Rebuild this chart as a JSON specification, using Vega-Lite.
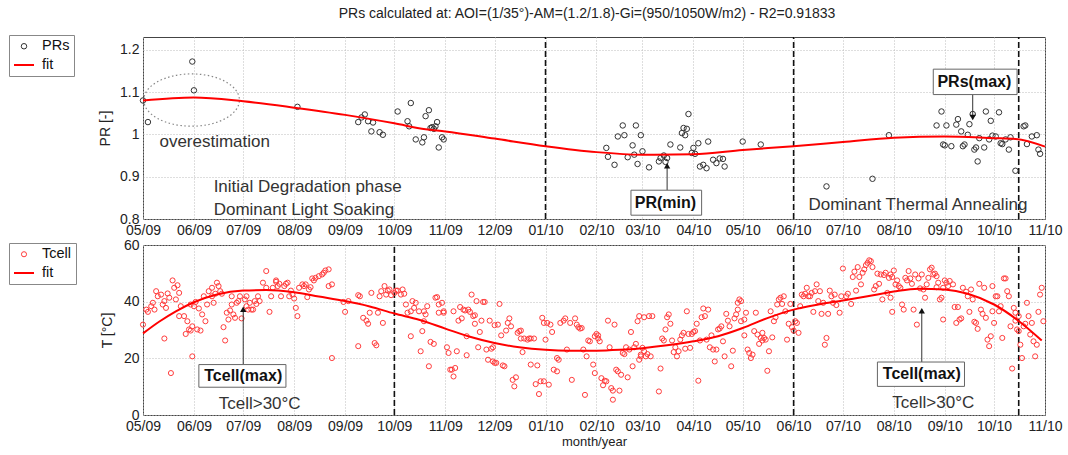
{
"$schema":"https://vega.github.io/schema/vega-lite/v6.json",
"padding":{"left":8,"top":6,"right":10,"bottom":4},
"config":{"font":"Liberation Sans","view":{"stroke":"#444","strokeWidth":1},
"axis":{"grid":true,"gridColor":"#bdbdbd","gridDash":[1,2],"gridWidth":1,"ticks":false,"domain":false,"labelFontSize":14,"labelColor":"#222","labelPadding":4,"titleFontSize":14,"titleFontWeight":"normal","titleColor":"#222","labelFlush":false,"labelOverlap":false},
"legend":{"orient":"none","legendX":-134,"legendY":-2,"fillColor":"white","strokeColor":"#888","padding":4,"rowPadding":1,"labelFontSize":14.5,"labelColor":"#111","labelOffset":7}},
"datasets":{
"pr":[{"date":"2009-05-01","PR":1.080},{"date":"2009-05-04","PR":1.029},{"date":"2009-05-31","PR":1.172},{"date":"2009-06-01","PR":1.104},{"date":"2009-08-03","PR":1.065},{"date":"2009-09-09","PR":1.029},{"date":"2009-09-11","PR":1.040},{"date":"2009-09-13","PR":1.047},{"date":"2009-09-15","PR":1.031},{"date":"2009-09-17","PR":1.007},{"date":"2009-09-18","PR":1.028},{"date":"2009-09-22","PR":1.005},{"date":"2009-09-24","PR":0.999},{"date":"2009-10-03","PR":1.054},{"date":"2009-10-09","PR":1.031},{"date":"2009-10-11","PR":1.074},{"date":"2009-10-10","PR":1.019},{"date":"2009-10-14","PR":0.988},{"date":"2009-10-18","PR":0.981},{"date":"2009-10-19","PR":0.993},{"date":"2009-10-20","PR":1.043},{"date":"2009-10-22","PR":1.057},{"date":"2009-10-23","PR":1.015},{"date":"2009-10-24","PR":1.017},{"date":"2009-10-25","PR":1.013},{"date":"2009-10-26","PR":1.019},{"date":"2009-10-27","PR":1.029},{"date":"2009-10-28","PR":0.969},{"date":"2009-10-30","PR":0.993},{"date":"2009-10-31","PR":0.988},
{"date":"2010-02-07","PR":0.968},{"date":"2010-02-08","PR":0.947},{"date":"2010-02-12","PR":0.928},{"date":"2010-02-14","PR":0.995},{"date":"2010-02-17","PR":1.021},{"date":"2010-02-18","PR":0.998},{"date":"2010-02-20","PR":0.946},{"date":"2010-02-23","PR":0.974},{"date":"2010-02-24","PR":0.952},{"date":"2010-02-25","PR":1.021},{"date":"2010-02-26","PR":0.930},{"date":"2010-02-28","PR":0.998},{"date":"2010-03-01","PR":0.960},{"date":"2010-03-05","PR":0.922},{"date":"2010-03-11","PR":0.936},{"date":"2010-03-12","PR":0.944},{"date":"2010-03-14","PR":0.950},{"date":"2010-03-15","PR":0.935},{"date":"2010-03-16","PR":0.944},{"date":"2010-03-18","PR":0.976},{"date":"2010-03-24","PR":0.969},{"date":"2010-03-25","PR":1.003},{"date":"2010-03-26","PR":1.015},{"date":"2010-03-27","PR":0.998},{"date":"2010-03-28","PR":1.013},{"date":"2010-03-29","PR":1.048},{"date":"2010-03-31","PR":0.956},{"date":"2010-04-01","PR":0.968},{"date":"2010-04-02","PR":0.954},{"date":"2010-04-04","PR":0.979},{"date":"2010-04-05","PR":0.924},{"date":"2010-04-07","PR":0.928},{"date":"2010-04-09","PR":0.920},{"date":"2010-04-10","PR":0.983},{"date":"2010-04-13","PR":0.940},{"date":"2010-04-15","PR":0.932},{"date":"2010-04-17","PR":0.943},{"date":"2010-04-19","PR":0.942},{"date":"2010-04-20","PR":0.924},{"date":"2010-05-01","PR":0.983},{"date":"2010-05-12","PR":0.976},{"date":"2010-06-21","PR":0.877},{"date":"2010-07-19","PR":0.895},{"date":"2010-07-29","PR":0.998},
{"date":"2010-08-27","PR":1.021},{"date":"2010-08-30","PR":1.054},{"date":"2010-08-31","PR":0.976},{"date":"2010-09-01","PR":0.974},{"date":"2010-09-02","PR":1.021},{"date":"2010-09-05","PR":0.972},{"date":"2010-09-08","PR":1.023},{"date":"2010-09-09","PR":1.036},{"date":"2010-09-11","PR":1.007},{"date":"2010-09-12","PR":0.972},{"date":"2010-09-13","PR":0.976},{"date":"2010-09-15","PR":0.999},{"date":"2010-09-16","PR":1.024},{"date":"2010-09-18","PR":1.048},{"date":"2010-09-19","PR":0.964},{"date":"2010-09-20","PR":0.969},{"date":"2010-09-21","PR":0.936},{"date":"2010-09-22","PR":0.991},{"date":"2010-09-25","PR":0.969},{"date":"2010-09-26","PR":1.054},{"date":"2010-09-28","PR":0.988},{"date":"2010-09-30","PR":0.997},{"date":"2010-09-29","PR":1.032},{"date":"2010-10-02","PR":0.995},{"date":"2010-10-04","PR":1.052},{"date":"2010-10-05","PR":0.979},{"date":"2010-10-06","PR":0.977},{"date":"2010-10-08","PR":0.988},{"date":"2010-10-10","PR":0.964},{"date":"2010-10-11","PR":0.993},{"date":"2010-10-14","PR":0.914},{"date":"2010-10-19","PR":1.019},{"date":"2010-10-20","PR":1.021},{"date":"2010-10-21","PR":0.977},{"date":"2010-10-24","PR":0.995},{"date":"2010-10-27","PR":0.998},{"date":"2010-10-28","PR":0.964},{"date":"2010-10-29","PR":0.954}],
"prfit":[{"date":"2009-05-01","PR":1.080},{"date":"2009-06-01","PR":1.087},{"date":"2009-07-01","PR":1.078},{"date":"2009-08-01","PR":1.063},{"date":"2009-09-01","PR":1.046},{"date":"2009-10-01","PR":1.026},{"date":"2009-10-20","PR":1.012},{"date":"2009-11-01","PR":1.007},{"date":"2009-12-01","PR":0.990},{"date":"2010-01-01","PR":0.972},{"date":"2010-02-01","PR":0.958},{"date":"2010-03-01","PR":0.952},{"date":"2010-04-01","PR":0.953},{"date":"2010-05-01","PR":0.963},{"date":"2010-06-01","PR":0.972},{"date":"2010-07-01","PR":0.982},{"date":"2010-08-01","PR":0.992},{"date":"2010-09-01","PR":0.995},{"date":"2010-10-01","PR":0.991},{"date":"2010-10-14","PR":0.989},{"date":"2010-11-01","PR":0.971}],
"tcfit":[{"date":"2009-05-01","T":28.8},{"date":"2009-05-11","T":33.0},{"date":"2009-05-21","T":36.6},{"date":"2009-06-01","T":39.8},{"date":"2009-06-15","T":42.5},{"date":"2009-07-01","T":43.9},{"date":"2009-07-15","T":44.1},{"date":"2009-08-01","T":43.3},{"date":"2009-08-16","T":41.8},{"date":"2009-09-01","T":40.2},{"date":"2009-09-16","T":38.3},{"date":"2009-10-01","T":35.8},{"date":"2009-10-16","T":33.6},{"date":"2009-11-01","T":30.5},{"date":"2009-11-16","T":27.6},{"date":"2009-12-01","T":25.4},{"date":"2009-12-16","T":23.9},{"date":"2010-01-01","T":23.0},{"date":"2010-01-16","T":22.7},{"date":"2010-02-01","T":22.7},{"date":"2010-02-15","T":23.0},{"date":"2010-03-01","T":23.6},{"date":"2010-03-16","T":24.6},{"date":"2010-04-01","T":26.0},{"date":"2010-04-16","T":27.8},{"date":"2010-05-01","T":30.7},{"date":"2010-05-16","T":34.2},{"date":"2010-06-01","T":37.2},{"date":"2010-06-16","T":39.0},{"date":"2010-07-01","T":40.4},{"date":"2010-07-16","T":41.9},{"date":"2010-08-01","T":43.6},{"date":"2010-08-16","T":44.6},{"date":"2010-09-01","T":44.3},{"date":"2010-09-15","T":42.8},{"date":"2010-10-01","T":39.0},{"date":"2010-10-16","T":33.2},{"date":"2010-10-30","T":26.3}],
"tc":[{"date":"2009-05-01","T":31.9},{"date":"2009-05-03","T":37.2},{"date":"2009-05-04","T":36.4},{"date":"2009-05-06","T":38.4},{"date":"2009-05-07","T":39.6},{"date":"2009-05-08","T":37.2},{"date":"2009-05-09","T":43.7},{"date":"2009-05-10","T":41.9},{"date":"2009-05-12","T":42.5},{"date":"2009-05-13","T":39.0},{"date":"2009-05-14","T":40.2},{"date":"2009-05-14","T":27.0},{"date":"2009-05-15","T":37.8},{"date":"2009-05-16","T":42.9},{"date":"2009-05-17","T":41.4},{"date":"2009-05-18","T":14.8},{"date":"2009-05-19","T":47.5},{"date":"2009-05-20","T":44.9},{"date":"2009-05-21","T":40.8},{"date":"2009-05-22","T":45.8},{"date":"2009-05-23","T":43.1},{"date":"2009-05-23","T":34.9},{"date":"2009-05-24","T":38.4},{"date":"2009-05-26","T":34.9},{"date":"2009-05-27","T":28.6},{"date":"2009-05-28","T":33.1},{"date":"2009-05-29","T":30.2},{"date":"2009-05-30","T":39.0},{"date":"2009-05-30","T":29.8},{"date":"2009-05-31","T":20.7},{"date":"2009-05-31","T":31.3},
{"date":"2009-06-01","T":38.4},{"date":"2009-06-02","T":39.9},{"date":"2009-06-03","T":30.2},{"date":"2009-06-04","T":37.6},{"date":"2009-06-05","T":29.8},{"date":"2009-06-06","T":35.5},{"date":"2009-06-07","T":41.9},{"date":"2009-06-08","T":33.1},{"date":"2009-06-09","T":39.0},{"date":"2009-06-10","T":43.7},{"date":"2009-06-12","T":41.9},{"date":"2009-06-12","T":44.9},{"date":"2009-06-13","T":39.6},{"date":"2009-06-14","T":42.8},{"date":"2009-06-15","T":46.7},{"date":"2009-06-16","T":45.5},{"date":"2009-06-17","T":43.7},{"date":"2009-06-18","T":42.8},{"date":"2009-06-19","T":31.0},{"date":"2009-06-20","T":26.3},{"date":"2009-06-21","T":36.1},{"date":"2009-06-22","T":33.7},{"date":"2009-06-23","T":36.9},{"date":"2009-06-24","T":39.0},{"date":"2009-06-24","T":41.9},{"date":"2009-06-25","T":35.5},{"date":"2009-06-26","T":34.3},{"date":"2009-06-27","T":39.6},{"date":"2009-06-28","T":40.2},{"date":"2009-06-29","T":41.9},{"date":"2009-06-30","T":34.1},
{"date":"2009-07-02","T":40.8},{"date":"2009-07-03","T":38.4},{"date":"2009-07-03","T":41.9},{"date":"2009-07-04","T":37.2},{"date":"2009-07-05","T":39.6},{"date":"2009-07-06","T":37.2},{"date":"2009-07-07","T":37.2},{"date":"2009-07-08","T":40.2},{"date":"2009-07-09","T":39.2},{"date":"2009-07-10","T":41.9},{"date":"2009-07-11","T":40.2},{"date":"2009-07-13","T":46.7},{"date":"2009-07-15","T":44.9},{"date":"2009-07-15","T":50.8},{"date":"2009-07-17","T":36.4},{"date":"2009-07-18","T":41.9},{"date":"2009-07-19","T":44.9},{"date":"2009-07-21","T":47.0},{"date":"2009-07-21","T":47.5},{"date":"2009-07-22","T":45.5},{"date":"2009-07-23","T":46.3},{"date":"2009-07-24","T":41.9},{"date":"2009-07-26","T":45.5},{"date":"2009-07-27","T":46.3},{"date":"2009-07-28","T":46.7},{"date":"2009-07-29","T":41.9},{"date":"2009-07-30","T":43.9},{"date":"2009-07-31","T":42.5},
{"date":"2009-08-01","T":41.1},{"date":"2009-08-02","T":37.8},{"date":"2009-08-03","T":34.9},{"date":"2009-08-04","T":44.9},{"date":"2009-08-06","T":46.1},{"date":"2009-08-07","T":45.5},{"date":"2009-08-08","T":46.1},{"date":"2009-08-09","T":41.6},{"date":"2009-08-10","T":44.3},{"date":"2009-08-11","T":45.1},{"date":"2009-08-12","T":48.2},{"date":"2009-08-13","T":47.5},{"date":"2009-08-14","T":48.4},{"date":"2009-08-16","T":49.0},{"date":"2009-08-18","T":49.6},{"date":"2009-08-19","T":50.2},{"date":"2009-08-20","T":51.0},{"date":"2009-08-22","T":51.4},{"date":"2009-08-22","T":45.5},{"date":"2009-08-24","T":46.1},{"date":"2009-08-24","T":20.1},{"date":"2009-08-31","T":39.9},
{"date":"2009-09-01","T":36.4},{"date":"2009-09-03","T":40.2},{"date":"2009-09-09","T":42.3},{"date":"2009-09-10","T":41.9},{"date":"2009-09-09","T":24.3},{"date":"2009-09-12","T":34.3},{"date":"2009-09-14","T":33.3},{"date":"2009-09-15","T":32.2},{"date":"2009-09-16","T":36.1},{"date":"2009-09-17","T":43.1},{"date":"2009-09-19","T":25.4},{"date":"2009-09-20","T":24.6},{"date":"2009-09-21","T":36.1},{"date":"2009-09-22","T":41.9},{"date":"2009-09-23","T":43.7},{"date":"2009-09-24","T":32.5},{"date":"2009-09-25","T":45.5},{"date":"2009-09-26","T":42.5},{"date":"2009-09-27","T":43.9},{"date":"2009-09-28","T":44.3},{"date":"2009-09-29","T":42.3},
{"date":"2009-10-01","T":43.1},{"date":"2009-10-02","T":43.9},{"date":"2009-10-03","T":43.9},{"date":"2009-10-05","T":42.5},{"date":"2009-10-06","T":44.3},{"date":"2009-10-07","T":42.8},{"date":"2009-10-08","T":39.0},{"date":"2009-10-09","T":36.1},{"date":"2009-10-11","T":36.6},{"date":"2009-10-11","T":27.8},{"date":"2009-10-12","T":40.2},{"date":"2009-10-13","T":37.8},{"date":"2009-10-14","T":39.6},{"date":"2009-10-16","T":36.6},{"date":"2009-10-17","T":22.5},{"date":"2009-10-18","T":29.6},{"date":"2009-10-19","T":36.6},{"date":"2009-10-19","T":33.1},{"date":"2009-10-20","T":35.5},{"date":"2009-10-21","T":38.4},{"date":"2009-10-22","T":17.2},{"date":"2009-10-23","T":25.8},{"date":"2009-10-25","T":25.1},{"date":"2009-10-26","T":41.4},{"date":"2009-10-27","T":41.6},{"date":"2009-10-28","T":36.1},{"date":"2009-10-28","T":39.0},{"date":"2009-10-30","T":39.6},{"date":"2009-10-31","T":36.6},{"date":"2009-10-31","T":36.1},
{"date":"2009-11-02","T":23.9},{"date":"2009-11-03","T":21.9},{"date":"2009-11-04","T":16.0},{"date":"2009-11-05","T":16.0},{"date":"2009-11-06","T":13.6},{"date":"2009-11-06","T":36.6},{"date":"2009-11-07","T":16.6},{"date":"2009-11-08","T":22.5},{"date":"2009-11-09","T":33.3},{"date":"2009-11-10","T":38.1},{"date":"2009-11-11","T":34.1},{"date":"2009-11-12","T":37.2},{"date":"2009-11-13","T":36.9},{"date":"2009-11-14","T":27.8},{"date":"2009-11-14","T":21.1},{"date":"2009-11-15","T":37.2},{"date":"2009-11-16","T":36.4},{"date":"2009-11-17","T":42.5},{"date":"2009-11-18","T":34.9},{"date":"2009-11-19","T":35.2},{"date":"2009-11-19","T":32.2},{"date":"2009-11-20","T":40.2},{"date":"2009-11-21","T":23.9},{"date":"2009-11-22","T":29.3},{"date":"2009-11-23","T":33.3},{"date":"2009-11-24","T":39.9},{"date":"2009-11-25","T":39.9},{"date":"2009-11-26","T":23.1},{"date":"2009-11-27","T":19.5},{"date":"2009-11-28","T":33.3},{"date":"2009-11-29","T":23.4},{"date":"2009-11-30","T":23.9},{"date":"2009-11-30","T":18.9},
{"date":"2009-12-01","T":18.4},{"date":"2009-12-01","T":31.7},{"date":"2009-12-02","T":18.4},{"date":"2009-12-03","T":31.9},{"date":"2009-12-04","T":39.2},{"date":"2009-12-05","T":28.1},{"date":"2009-12-06","T":17.5},{"date":"2009-12-07","T":17.2},{"date":"2009-12-08","T":29.8},{"date":"2009-12-09","T":32.5},{"date":"2009-12-10","T":34.1},{"date":"2009-12-11","T":31.3},{"date":"2009-12-12","T":12.4},{"date":"2009-12-13","T":10.1},{"date":"2009-12-14","T":13.3},{"date":"2009-12-15","T":29.0},{"date":"2009-12-16","T":29.6},{"date":"2009-12-17","T":27.0},{"date":"2009-12-17","T":29.8},{"date":"2009-12-18","T":22.2},{"date":"2009-12-19","T":27.0},{"date":"2009-12-21","T":26.6},{"date":"2009-12-22","T":27.0},{"date":"2009-12-23","T":17.8},{"date":"2009-12-23","T":27.0},{"date":"2009-12-25","T":27.0},{"date":"2009-12-26","T":10.9},{"date":"2009-12-27","T":17.5},{"date":"2009-12-28","T":7.4},{"date":"2009-12-29","T":11.9},{"date":"2009-12-30","T":34.3},{"date":"2009-12-31","T":32.5},{"date":"2009-12-31","T":11.9},
{"date":"2010-01-01","T":26.6},{"date":"2010-01-02","T":32.5},{"date":"2010-01-03","T":10.7},{"date":"2010-01-04","T":31.9},{"date":"2010-01-05","T":29.3},{"date":"2010-01-06","T":16.0},{"date":"2010-01-08","T":20.1},{"date":"2010-01-08","T":15.4},{"date":"2010-01-09","T":19.5},{"date":"2010-01-10","T":32.5},{"date":"2010-01-12","T":33.3},{"date":"2010-01-13","T":34.1},{"date":"2010-01-14","T":23.1},{"date":"2010-01-16","T":32.5},{"date":"2010-01-17","T":12.4},{"date":"2010-01-19","T":34.1},{"date":"2010-01-20","T":31.9},{"date":"2010-01-21","T":31.0},{"date":"2010-01-22","T":30.5},{"date":"2010-01-23","T":30.7},{"date":"2010-01-24","T":23.1},{"date":"2010-01-25","T":7.1},{"date":"2010-01-26","T":20.7},{"date":"2010-01-27","T":26.3},{"date":"2010-01-28","T":26.0},{"date":"2010-01-30","T":17.8},{"date":"2010-01-31","T":14.8},{"date":"2010-01-31","T":27.8},
{"date":"2010-02-01","T":28.6},{"date":"2010-02-02","T":27.0},{"date":"2010-02-02","T":28.1},{"date":"2010-02-03","T":26.0},{"date":"2010-02-04","T":13.0},{"date":"2010-02-05","T":10.5},{"date":"2010-02-06","T":12.1},{"date":"2010-02-07","T":11.9},{"date":"2010-02-08","T":33.3},{"date":"2010-02-09","T":23.9},{"date":"2010-02-10","T":9.5},{"date":"2010-02-11","T":8.6},{"date":"2010-02-11","T":5.4},{"date":"2010-02-12","T":31.9},{"date":"2010-02-13","T":16.0},{"date":"2010-02-14","T":15.4},{"date":"2010-02-15","T":8.6},{"date":"2010-02-16","T":14.2},{"date":"2010-02-17","T":21.9},{"date":"2010-02-18","T":21.5},{"date":"2010-02-19","T":23.9},{"date":"2010-02-20","T":13.3},{"date":"2010-02-21","T":23.1},{"date":"2010-02-22","T":29.3},{"date":"2010-02-23","T":17.2},{"date":"2010-02-24","T":23.9},{"date":"2010-02-25","T":25.1},{"date":"2010-02-26","T":33.1},{"date":"2010-02-27","T":19.5},{"date":"2010-02-27","T":34.9},{"date":"2010-02-28","T":20.7},{"date":"2010-02-28","T":21.3},
{"date":"2010-03-01","T":23.7},{"date":"2010-03-02","T":34.5},{"date":"2010-03-02","T":22.5},{"date":"2010-03-03","T":20.7},{"date":"2010-03-04","T":21.5},{"date":"2010-03-05","T":34.9},{"date":"2010-03-06","T":20.7},{"date":"2010-03-07","T":34.9},{"date":"2010-03-11","T":8.3},{"date":"2010-03-12","T":16.4},{"date":"2010-03-13","T":27.0},{"date":"2010-03-14","T":26.3},{"date":"2010-03-15","T":30.2},{"date":"2010-03-16","T":34.5},{"date":"2010-03-17","T":35.5},{"date":"2010-03-18","T":32.2},{"date":"2010-03-19","T":26.3},{"date":"2010-03-20","T":22.2},{"date":"2010-03-21","T":23.9},{"date":"2010-03-22","T":20.7},{"date":"2010-03-23","T":22.5},{"date":"2010-03-24","T":26.6},{"date":"2010-03-25","T":28.1},{"date":"2010-03-26","T":29.0},{"date":"2010-03-27","T":23.4},{"date":"2010-03-28","T":36.6},{"date":"2010-03-29","T":28.6},{"date":"2010-03-30","T":23.7},{"date":"2010-03-31","T":28.6},
{"date":"2010-04-01","T":29.3},{"date":"2010-04-02","T":29.6},{"date":"2010-04-03","T":32.2},{"date":"2010-04-04","T":12.1},{"date":"2010-04-05","T":26.3},{"date":"2010-04-06","T":34.5},{"date":"2010-04-07","T":37.6},{"date":"2010-04-08","T":34.9},{"date":"2010-04-09","T":26.6},{"date":"2010-04-10","T":37.2},{"date":"2010-04-11","T":23.9},{"date":"2010-04-12","T":28.1},{"date":"2010-04-13","T":23.1},{"date":"2010-04-14","T":18.9},{"date":"2010-04-15","T":23.1},{"date":"2010-04-16","T":30.2},{"date":"2010-04-17","T":30.5},{"date":"2010-04-18","T":31.3},{"date":"2010-04-19","T":26.0},{"date":"2010-04-20","T":20.7},{"date":"2010-04-21","T":35.7},{"date":"2010-04-22","T":33.3},{"date":"2010-04-23","T":31.3},{"date":"2010-04-24","T":17.2},{"date":"2010-04-25","T":22.7},{"date":"2010-04-26","T":34.1},{"date":"2010-04-27","T":35.5},{"date":"2010-04-28","T":37.2},{"date":"2010-04-28","T":39.6},{"date":"2010-04-29","T":40.8},{"date":"2010-04-30","T":33.1},{"date":"2010-04-30","T":40.2},
{"date":"2010-05-02","T":33.7},{"date":"2010-05-02","T":28.1},{"date":"2010-05-03","T":36.1},{"date":"2010-05-04","T":23.1},{"date":"2010-05-05","T":21.9},{"date":"2010-05-06","T":20.1},{"date":"2010-05-07","T":21.3},{"date":"2010-05-08","T":29.6},{"date":"2010-05-09","T":36.1},{"date":"2010-05-10","T":28.4},{"date":"2010-05-11","T":25.1},{"date":"2010-05-12","T":27.2},{"date":"2010-05-13","T":29.0},{"date":"2010-05-13","T":26.3},{"date":"2010-05-14","T":27.2},{"date":"2010-05-15","T":26.6},{"date":"2010-05-16","T":15.6},{"date":"2010-05-17","T":22.5},{"date":"2010-05-18","T":36.6},{"date":"2010-05-19","T":27.4},{"date":"2010-05-20","T":33.1},{"date":"2010-05-21","T":34.5},{"date":"2010-05-22","T":39.0},{"date":"2010-05-23","T":40.8},{"date":"2010-05-24","T":41.4},{"date":"2010-05-25","T":39.2},{"date":"2010-05-26","T":41.9},{"date":"2010-05-27","T":36.6},{"date":"2010-05-28","T":26.6},{"date":"2010-05-29","T":32.2},{"date":"2010-05-30","T":39.2},{"date":"2010-05-31","T":31.0},{"date":"2010-06-01","T":29.8},
{"date":"2010-06-02","T":33.1},{"date":"2010-06-03","T":32.5},{"date":"2010-06-04","T":29.0},{"date":"2010-06-05","T":38.4},{"date":"2010-06-06","T":42.5},{"date":"2010-06-07","T":41.9},{"date":"2010-06-08","T":42.8},{"date":"2010-06-09","T":44.9},{"date":"2010-06-10","T":41.9},{"date":"2010-06-11","T":41.9},{"date":"2010-06-12","T":43.1},{"date":"2010-06-13","T":36.4},{"date":"2010-06-14","T":43.7},{"date":"2010-06-15","T":46.1},{"date":"2010-06-16","T":40.2},{"date":"2010-06-17","T":43.7},{"date":"2010-06-18","T":35.7},{"date":"2010-06-19","T":39.6},{"date":"2010-06-20","T":24.8},{"date":"2010-06-21","T":27.2},{"date":"2010-06-22","T":35.7},{"date":"2010-06-23","T":43.9},{"date":"2010-06-24","T":41.9},{"date":"2010-06-25","T":39.6},{"date":"2010-06-26","T":42.5},{"date":"2010-06-27","T":38.8},{"date":"2010-06-29","T":36.1},{"date":"2010-06-30","T":41.9},
{"date":"2010-07-01","T":51.7},{"date":"2010-07-03","T":41.9},{"date":"2010-07-04","T":42.8},{"date":"2010-07-06","T":39.2},{"date":"2010-07-07","T":48.7},{"date":"2010-07-08","T":50.6},{"date":"2010-07-09","T":43.9},{"date":"2010-07-10","T":52.2},{"date":"2010-07-11","T":48.7},{"date":"2010-07-12","T":46.1},{"date":"2010-07-13","T":50.2},{"date":"2010-07-14","T":51.4},{"date":"2010-07-15","T":52.9},{"date":"2010-07-16","T":53.7},{"date":"2010-07-17","T":54.6},{"date":"2010-07-18","T":54.3},{"date":"2010-07-19","T":52.2},{"date":"2010-07-20","T":44.3},{"date":"2010-07-21","T":45.5},{"date":"2010-07-22","T":49.9},{"date":"2010-07-23","T":46.3},{"date":"2010-07-24","T":49.6},{"date":"2010-07-25","T":40.8},{"date":"2010-07-26","T":49.4},{"date":"2010-07-27","T":50.2},{"date":"2010-07-28","T":43.1},{"date":"2010-07-29","T":48.4},{"date":"2010-07-30","T":49.6},{"date":"2010-07-30","T":41.4},{"date":"2010-07-31","T":36.4},{"date":"2010-07-31","T":48.7},
{"date":"2010-08-01","T":51.0},{"date":"2010-08-02","T":46.1},{"date":"2010-08-03","T":47.5},{"date":"2010-08-04","T":45.5},{"date":"2010-08-05","T":44.9},{"date":"2010-08-06","T":39.0},{"date":"2010-08-07","T":37.2},{"date":"2010-08-08","T":48.4},{"date":"2010-08-09","T":47.5},{"date":"2010-08-10","T":50.8},{"date":"2010-08-11","T":48.2},{"date":"2010-08-12","T":46.3},{"date":"2010-08-13","T":37.2},{"date":"2010-08-14","T":49.6},{"date":"2010-08-15","T":31.9},{"date":"2010-08-16","T":48.2},{"date":"2010-08-17","T":44.7},{"date":"2010-08-18","T":49.6},{"date":"2010-08-19","T":44.3},{"date":"2010-08-20","T":41.4},{"date":"2010-08-21","T":46.1},{"date":"2010-08-22","T":48.4},{"date":"2010-08-23","T":51.4},{"date":"2010-08-24","T":52.0},{"date":"2010-08-25","T":49.6},{"date":"2010-08-26","T":49.9},{"date":"2010-08-27","T":49.0},{"date":"2010-08-27","T":45.1},{"date":"2010-08-28","T":46.7},{"date":"2010-08-29","T":40.8},{"date":"2010-08-30","T":41.4},{"date":"2010-08-31","T":33.7},{"date":"2010-08-31","T":44.9},{"date":"2010-09-01","T":47.5},
{"date":"2010-09-02","T":46.7},{"date":"2010-09-03","T":45.5},{"date":"2010-09-04","T":47.3},{"date":"2010-09-06","T":46.1},{"date":"2010-09-07","T":38.1},{"date":"2010-09-08","T":32.5},{"date":"2010-09-09","T":38.1},{"date":"2010-09-10","T":33.7},{"date":"2010-09-11","T":34.1},{"date":"2010-09-12","T":44.9},{"date":"2010-09-14","T":43.5},{"date":"2010-09-15","T":41.9},{"date":"2010-09-16","T":36.4},{"date":"2010-09-17","T":44.3},{"date":"2010-09-18","T":40.8},{"date":"2010-09-19","T":32.9},{"date":"2010-09-20","T":32.5},{"date":"2010-09-21","T":30.4},{"date":"2010-09-22","T":46.3},{"date":"2010-09-23","T":37.2},{"date":"2010-09-24","T":35.7},{"date":"2010-09-25","T":44.9},{"date":"2010-09-26","T":34.3},{"date":"2010-09-27","T":26.6},{"date":"2010-09-28","T":24.3},{"date":"2010-09-29","T":27.8},{"date":"2010-09-30","T":45.5},{"date":"2010-09-30","T":36.6},{"date":"2010-10-01","T":32.5},
{"date":"2010-10-02","T":41.9},{"date":"2010-10-03","T":41.9},{"date":"2010-10-04","T":36.6},{"date":"2010-10-05","T":38.4},{"date":"2010-10-06","T":27.2},{"date":"2010-10-07","T":48.2},{"date":"2010-10-08","T":48.2},{"date":"2010-10-09","T":43.7},{"date":"2010-10-10","T":41.9},{"date":"2010-10-11","T":31.3},{"date":"2010-10-12","T":16.4},{"date":"2010-10-13","T":37.8},{"date":"2010-10-14","T":36.1},{"date":"2010-10-14","T":33.3},{"date":"2010-10-15","T":30.2},{"date":"2010-10-16","T":34.9},{"date":"2010-10-16","T":29.6},{"date":"2010-10-17","T":24.8},{"date":"2010-10-18","T":20.1},{"date":"2010-10-19","T":31.3},{"date":"2010-10-20","T":32.2},{"date":"2010-10-21","T":39.6},{"date":"2010-10-22","T":34.9},{"date":"2010-10-23","T":28.4},{"date":"2010-10-24","T":32.5},{"date":"2010-10-25","T":26.0},{"date":"2010-10-26","T":20.7},{"date":"2010-10-27","T":24.8},{"date":"2010-10-28","T":36.4},{"date":"2010-10-29","T":42.5},{"date":"2010-10-30","T":44.9},{"date":"2010-10-31","T":33.1}]
},
"vconcat":[
{"width":902,"height":182,
"title":{"text":"PRs calculated at: AOI=(1/35°)-AM=(1.2/1.8)-Gi=(950/1050W/m2) - R2=0.91833","fontSize":14,"fontWeight":"normal","color":"#222","offset":14,"dx":-7},
"encoding":{
"x":{"field":"date","type":"temporal","scale":{"domain":[1241136000000,1288569600000]},"axis":{"title":null,"format":"%m/%y","tickCount":{"interval":"month","step":1}}},
"y":{"field":"PR","type":"quantitative","scale":{"domain":[0.8,1.23],"nice":false,"zero":false},"axis":{"title":"PR [-]","values":[0.8,0.9,1,1.1,1.2],"format":"~g","titlePadding":7}}},
"layer":[
{"data":{"values":[{"date":"2010-01-01","PR":0.8,"PR2":1.23},{"date":"2010-06-01","PR":0.8,"PR2":1.23},{"date":"2010-10-16","PR":0.8,"PR2":1.23}]},"mark":{"type":"rule","strokeDash":[6,3],"strokeWidth":1.6,"color":"#111"},
"encoding":{"y2":{"field":"PR2"}}},
{"data":{"values":[{"date":"2009-05-30T14:00","PR":1.081}]},"mark":{"type":"point","shape":"M-1,0A1,0.547,0,1,0,1,0A1,0.547,0,1,0,-1,0Z","size":9139,"filled":false,"stroke":"#555","strokeWidth":1.2,"strokeDash":[1.5,2.5]}},
{"data":{"values":[{"date":"2009-05-11","PR":0.981,"label":"overestimation"},{"date":"2009-06-13","PR":0.876,"label":"Initial Degradation phase"},{"date":"2009-06-13","PR":0.821,"label":"Dominant Light Soaking"},{"date":"2010-06-10","PR":0.834,"label":"Dominant Thermal Annealing"}]},
"mark":{"type":"text","align":"left","baseline":"middle","fontSize":17,"color":"#333"},
"encoding":{"text":{"field":"label"}}},
{"data":{"name":"pr"},"mark":{"type":"point","filled":false,"opacity":1},
"encoding":{
"color":{"datum":"PRs","type":"nominal","scale":{"domain":["PRs","fit"],"range":["#333333","#ff0000"]},"legend":{"title":null}},
"shape":{"datum":"PRs","type":"nominal","scale":{"domain":["PRs","fit"],"range":["circle","stroke"]},"legend":{"title":null}},
"size":{"datum":"PRs","type":"nominal","scale":{"type":"ordinal","domain":["PRs","fit"],"range":[30,400]},"legend":{"title":null}},
"strokeWidth":{"datum":"PRs","type":"nominal","scale":{"type":"ordinal","domain":["PRs","fit"],"range":[1,2]},"legend":{"title":null}}}},
{"data":{"name":"prfit"},"mark":{"type":"line","strokeWidth":2,"interpolate":"monotone"},
"encoding":{"color":{"datum":"fit","type":"nominal","scale":{"domain":["PRs","fit"],"range":["#333333","#ff0000"]},"legend":{"title":null}}}},
{"data":{"values":[{"date":"2010-03-16","PR":0.868,"PR2":0.93},{"date":"2010-09-18","PR":1.094,"PR2":1.036}]},"mark":{"type":"rule","color":"#333","strokeWidth":1},
"encoding":{"y2":{"field":"PR2"}}},
{"data":{"values":[{"date":"2010-03-16","PR":0.926}]},"mark":{"type":"point","shape":"triangle-up","size":40,"filled":true,"color":"#111","opacity":1}},
{"data":{"values":[{"date":"2010-09-18","PR":1.040}]},"mark":{"type":"point","shape":"triangle-down","size":40,"filled":true,"color":"#111","opacity":1}},
{"data":{"values":[{"date":"2010-02-22","date2":"2010-04-06","PR":0.809,"PR2":0.868},{"date":"2010-08-25","date2":"2010-10-15","PR":1.094,"PR2":1.154}]},"mark":{"type":"rect","fill":"white","stroke":"#666","strokeWidth":1},
"encoding":{"x2":{"field":"date2"},"y2":{"field":"PR2"}}},
{"data":{"values":[{"date":"2010-03-15","PR":0.838,"label":"PR(min)"},{"date":"2010-09-19","PR":1.124,"label":"PRs(max)"}]},"mark":{"type":"text","align":"center","baseline":"middle","fontSize":16,"fontWeight":"bold","color":"#111"},
"encoding":{"text":{"field":"label"}}}
]},
{"width":902,"height":170,
"encoding":{
"x":{"field":"date","type":"temporal","scale":{"domain":[1241136000000,1288569600000]},"axis":{"title":"month/year","titleFontSize":13,"titlePadding":2,"format":"%m/%y","tickCount":{"interval":"month","step":1}}},
"y":{"field":"T","type":"quantitative","scale":{"domain":[0,60],"nice":false},"axis":{"title":"T [°C]","values":[0,20,40,60],"titlePadding":9}}},
"layer":[
{"data":{"values":[{"date":"2009-10-01","T":0,"T2":60},{"date":"2010-06-01","T":0,"T2":60},{"date":"2010-10-16","T":0,"T2":60}]},"mark":{"type":"rule","strokeDash":[6,3],"strokeWidth":1.6,"color":"#111"},
"encoding":{"y2":{"field":"T2"}}},
{"data":{"name":"tc"},"mark":{"type":"point","filled":false,"opacity":1},
"encoding":{
"color":{"datum":"Tcell","type":"nominal","scale":{"domain":["Tcell","fit"],"range":["#ff3b3b","#ff0000"]},"legend":{"title":null}},
"shape":{"datum":"Tcell","type":"nominal","scale":{"domain":["Tcell","fit"],"range":["circle","stroke"]},"legend":{"title":null}},
"size":{"datum":"Tcell","type":"nominal","scale":{"type":"ordinal","domain":["Tcell","fit"],"range":[26,400]},"legend":{"title":null}},
"strokeWidth":{"datum":"Tcell","type":"nominal","scale":{"type":"ordinal","domain":["Tcell","fit"],"range":[1,2]},"legend":{"title":null}}}},
{"data":{"name":"tcfit"},"mark":{"type":"line","strokeWidth":2,"interpolate":"monotone"},
"encoding":{"color":{"datum":"fit","type":"nominal","scale":{"domain":["Tcell","fit"],"range":["#ff3b3b","#ff0000"]},"legend":{"title":null}}}},
{"data":{"values":[{"date":"2009-07-01","T":17.8,"T2":37.8},{"date":"2010-08-18","T":18.7,"T2":37.3}]},"mark":{"type":"rule","color":"#333","strokeWidth":1},
"encoding":{"y2":{"field":"T2"}}},
{"data":{"values":[{"date":"2009-07-01","T":37.3},{"date":"2010-08-18","T":36.8}]},"mark":{"type":"point","shape":"triangle-up","size":40,"filled":true,"color":"#111","opacity":1}},
{"data":{"values":[{"date":"2009-06-04","date2":"2009-07-27","T":9.8,"T2":17.8},{"date":"2010-07-22","date2":"2010-09-13","T":10.1,"T2":18.7}]},"mark":{"type":"rect","fill":"white","stroke":"#666","strokeWidth":1},
"encoding":{"x2":{"field":"date2"},"y2":{"field":"T2"}}},
{"data":{"values":[{"date":"2009-07-01","T":13.8,"label":"Tcell(max)"},{"date":"2010-08-18","T":14.4,"label":"Tcell(max)"}]},"mark":{"type":"text","align":"center","baseline":"middle","fontSize":16,"fontWeight":"bold","color":"#111"},
"encoding":{"text":{"field":"label"}}},
{"data":{"values":[{"date":"2009-07-11","T":4.0,"label":"Tcell>30°C"},{"date":"2010-08-25","T":4.2,"label":"Tcell>30°C"}]},"mark":{"type":"text","align":"center","baseline":"middle","fontSize":17,"color":"#333"},
"encoding":{"text":{"field":"label"}}}
]}
],
"spacing":26,
"bounds":"flush",
"resolve":{"scale":{"color":"independent","shape":"independent","size":"independent","strokeWidth":"independent"}}
}
